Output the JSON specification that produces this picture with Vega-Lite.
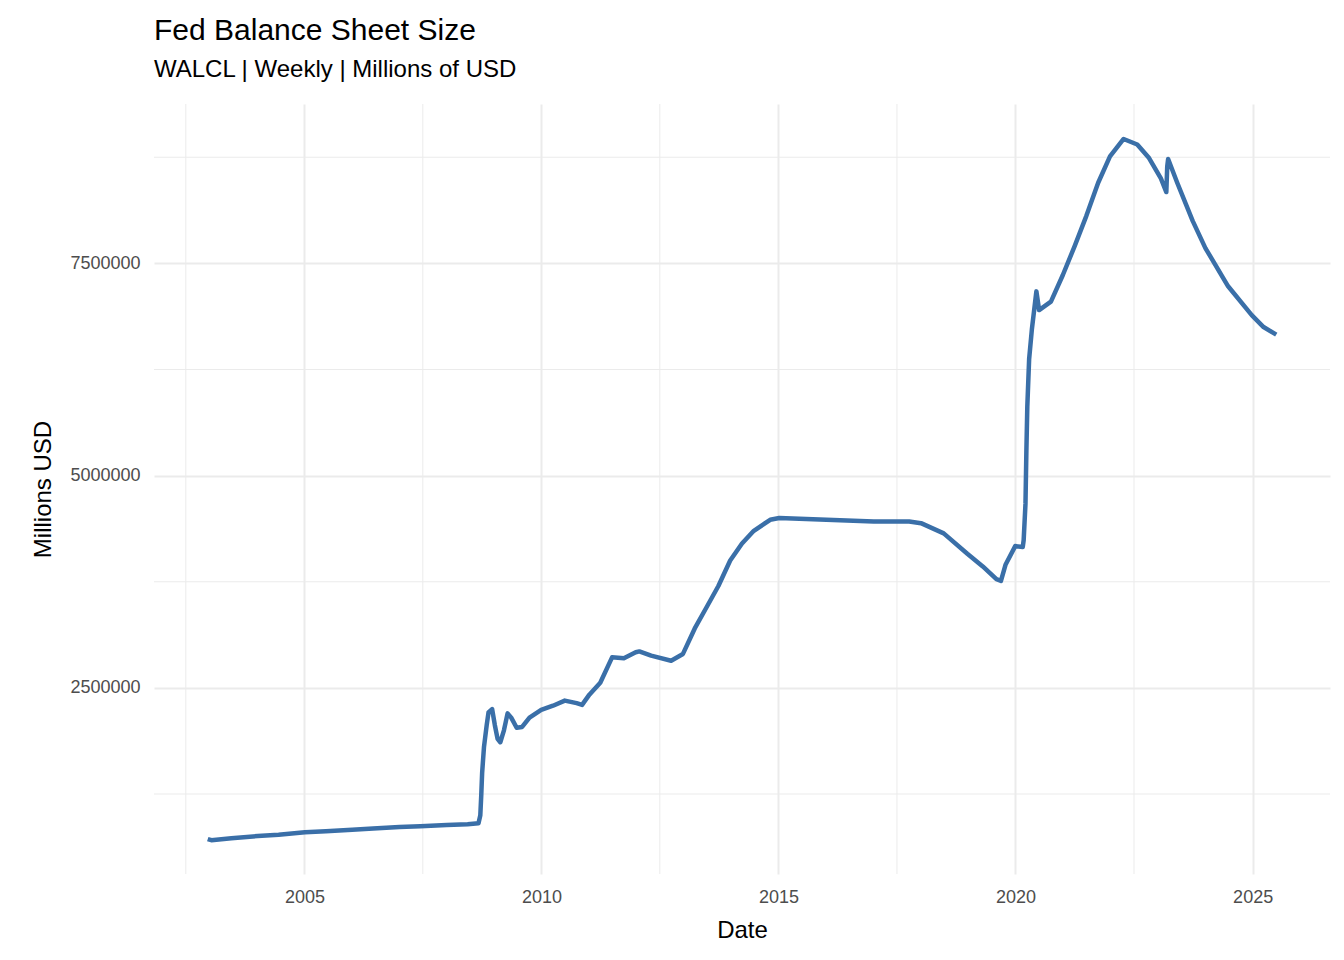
{
  "$schema": "https://vega.github.io/schema/vega-lite/v6.json",
  "width": 1176,
  "height": 770,
  "autosize": {"type": "none"},
  "padding": {"left": 154, "top": 104, "right": 14, "bottom": 86},
  "background": "white",
  "title": {
    "text": "Fed Balance Sheet Size",
    "subtitle": "WALCL | Weekly | Millions of USD",
    "anchor": "start",
    "frame": "group",
    "font": "Liberation Sans",
    "fontSize": 30,
    "fontWeight": "normal",
    "color": "black",
    "subtitleFont": "Liberation Sans",
    "subtitleFontSize": 24,
    "subtitleColor": "black",
    "subtitlePadding": 12,
    "offset": 22
  },
  "datasets": {
    "minorx": [
      {"d": "2002-07-02"}, {"d": "2007-07-02"}, {"d": "2012-07-01"},
      {"d": "2017-07-02"}, {"d": "2022-07-02"}
    ],
    "minory": [
      {"v": 1250000}, {"v": 3750000}, {"v": 6250000}, {"v": 8750000}
    ],
    "walcl": [
      {"date": "2002-12-18", "value": 720000},
      {"date": "2003-01-15", "value": 706000},
      {"date": "2003-06-18", "value": 730000},
      {"date": "2004-01-07", "value": 755000},
      {"date": "2004-06-16", "value": 770000},
      {"date": "2005-01-05", "value": 800000},
      {"date": "2005-06-15", "value": 812000},
      {"date": "2006-01-04", "value": 828000},
      {"date": "2006-06-14", "value": 845000},
      {"date": "2007-01-03", "value": 862000},
      {"date": "2007-06-13", "value": 870000},
      {"date": "2008-01-02", "value": 885000},
      {"date": "2008-06-11", "value": 895000},
      {"date": "2008-09-03", "value": 905000},
      {"date": "2008-09-17", "value": 1000000},
      {"date": "2008-09-24", "value": 1230000},
      {"date": "2008-10-01", "value": 1500000},
      {"date": "2008-10-15", "value": 1800000},
      {"date": "2008-11-05", "value": 2060000},
      {"date": "2008-11-19", "value": 2210000},
      {"date": "2008-12-17", "value": 2250000},
      {"date": "2009-01-07", "value": 2060000},
      {"date": "2009-01-28", "value": 1900000},
      {"date": "2009-02-18", "value": 1860000},
      {"date": "2009-03-18", "value": 2000000},
      {"date": "2009-04-01", "value": 2100000},
      {"date": "2009-04-15", "value": 2200000},
      {"date": "2009-05-13", "value": 2150000},
      {"date": "2009-06-24", "value": 2030000},
      {"date": "2009-08-05", "value": 2040000},
      {"date": "2009-10-01", "value": 2150000},
      {"date": "2009-12-30", "value": 2240000},
      {"date": "2010-03-31", "value": 2290000},
      {"date": "2010-06-30", "value": 2350000},
      {"date": "2010-09-29", "value": 2320000},
      {"date": "2010-11-10", "value": 2300000},
      {"date": "2011-01-05", "value": 2420000},
      {"date": "2011-03-30", "value": 2560000},
      {"date": "2011-06-29", "value": 2860000},
      {"date": "2011-09-28", "value": 2850000},
      {"date": "2011-12-28", "value": 2920000},
      {"date": "2012-01-25", "value": 2930000},
      {"date": "2012-04-25", "value": 2880000},
      {"date": "2012-09-26", "value": 2820000},
      {"date": "2012-12-26", "value": 2900000},
      {"date": "2013-03-27", "value": 3200000},
      {"date": "2013-06-26", "value": 3450000},
      {"date": "2013-09-25", "value": 3700000},
      {"date": "2013-12-25", "value": 4000000},
      {"date": "2014-03-26", "value": 4200000},
      {"date": "2014-06-25", "value": 4350000},
      {"date": "2014-10-29", "value": 4480000},
      {"date": "2015-01-07", "value": 4500000},
      {"date": "2016-01-06", "value": 4480000},
      {"date": "2017-01-04", "value": 4460000},
      {"date": "2017-10-04", "value": 4460000},
      {"date": "2018-01-03", "value": 4440000},
      {"date": "2018-06-27", "value": 4320000},
      {"date": "2018-12-26", "value": 4080000},
      {"date": "2019-04-24", "value": 3930000},
      {"date": "2019-08-07", "value": 3780000},
      {"date": "2019-09-11", "value": 3760000},
      {"date": "2019-10-16", "value": 3950000},
      {"date": "2019-12-30", "value": 4170000},
      {"date": "2020-02-26", "value": 4160000},
      {"date": "2020-03-04", "value": 4240000},
      {"date": "2020-03-18", "value": 4670000},
      {"date": "2020-03-25", "value": 5300000},
      {"date": "2020-04-01", "value": 5810000},
      {"date": "2020-04-15", "value": 6370000},
      {"date": "2020-05-06", "value": 6720000},
      {"date": "2020-06-10", "value": 7170000},
      {"date": "2020-07-01", "value": 6950000},
      {"date": "2020-09-30", "value": 7050000},
      {"date": "2020-12-30", "value": 7360000},
      {"date": "2021-03-31", "value": 7700000},
      {"date": "2021-06-30", "value": 8060000},
      {"date": "2021-09-29", "value": 8450000},
      {"date": "2021-12-29", "value": 8760000},
      {"date": "2022-04-13", "value": 8965000},
      {"date": "2022-07-27", "value": 8900000},
      {"date": "2022-10-26", "value": 8740000},
      {"date": "2023-01-25", "value": 8500000},
      {"date": "2023-03-08", "value": 8340000},
      {"date": "2023-03-15", "value": 8640000},
      {"date": "2023-03-22", "value": 8730000},
      {"date": "2023-05-31", "value": 8450000},
      {"date": "2023-09-27", "value": 8000000},
      {"date": "2024-01-03", "value": 7680000},
      {"date": "2024-06-26", "value": 7230000},
      {"date": "2024-12-25", "value": 6890000},
      {"date": "2025-03-26", "value": 6750000},
      {"date": "2025-07-02", "value": 6660000}
    ]
  },
  "layer": [
    {
      "data": {"name": "minorx"},
      "mark": {"type": "rule", "color": "#EBEBEB", "strokeWidth": 1},
      "encoding": {"x": {"field": "d", "type": "temporal"}}
    },
    {
      "data": {"name": "minory"},
      "mark": {"type": "rule", "color": "#EBEBEB", "strokeWidth": 1},
      "encoding": {"y": {"field": "v", "type": "quantitative"}}
    },
    {
      "data": {"name": "walcl"},
      "mark": {"type": "line", "color": "#3A6FA8", "strokeWidth": 4.5, "strokeJoin": "round"},
      "encoding": {
        "x": {
          "field": "date",
          "type": "temporal",
          "title": "Date",
          "scale": {"domain": ["2001-10-30", "2026-08-20"], "nice": false},
          "axis": {
            "values": ["2005-01-01", "2010-01-01", "2015-01-01", "2020-01-01", "2025-01-01"],
            "format": "%Y",
            "labelPadding": 14,
            "titlePadding": 12
          }
        },
        "y": {
          "field": "value",
          "type": "quantitative",
          "title": "Millions USD",
          "scale": {"domain": [308000, 9377000], "nice": false, "zero": false},
          "axis": {"values": [2500000, 5000000, 7500000], "format": "d", "labelPadding": 14, "titlePadding": 14}
        }
      }
    }
  ],
  "config": {
    "view": {"stroke": null},
    "axis": {
      "domain": false,
      "ticks": false,
      "grid": true,
      "gridColor": "#EBEBEB",
      "gridWidth": 2,
      "labelFont": "Liberation Sans",
      "labelFontSize": 18,
      "labelColor": "#4D4D4D",
      "titleFont": "Liberation Sans",
      "titleFontSize": 24,
      "titleFontWeight": "normal",
      "titleColor": "black"
    }
  }
}
